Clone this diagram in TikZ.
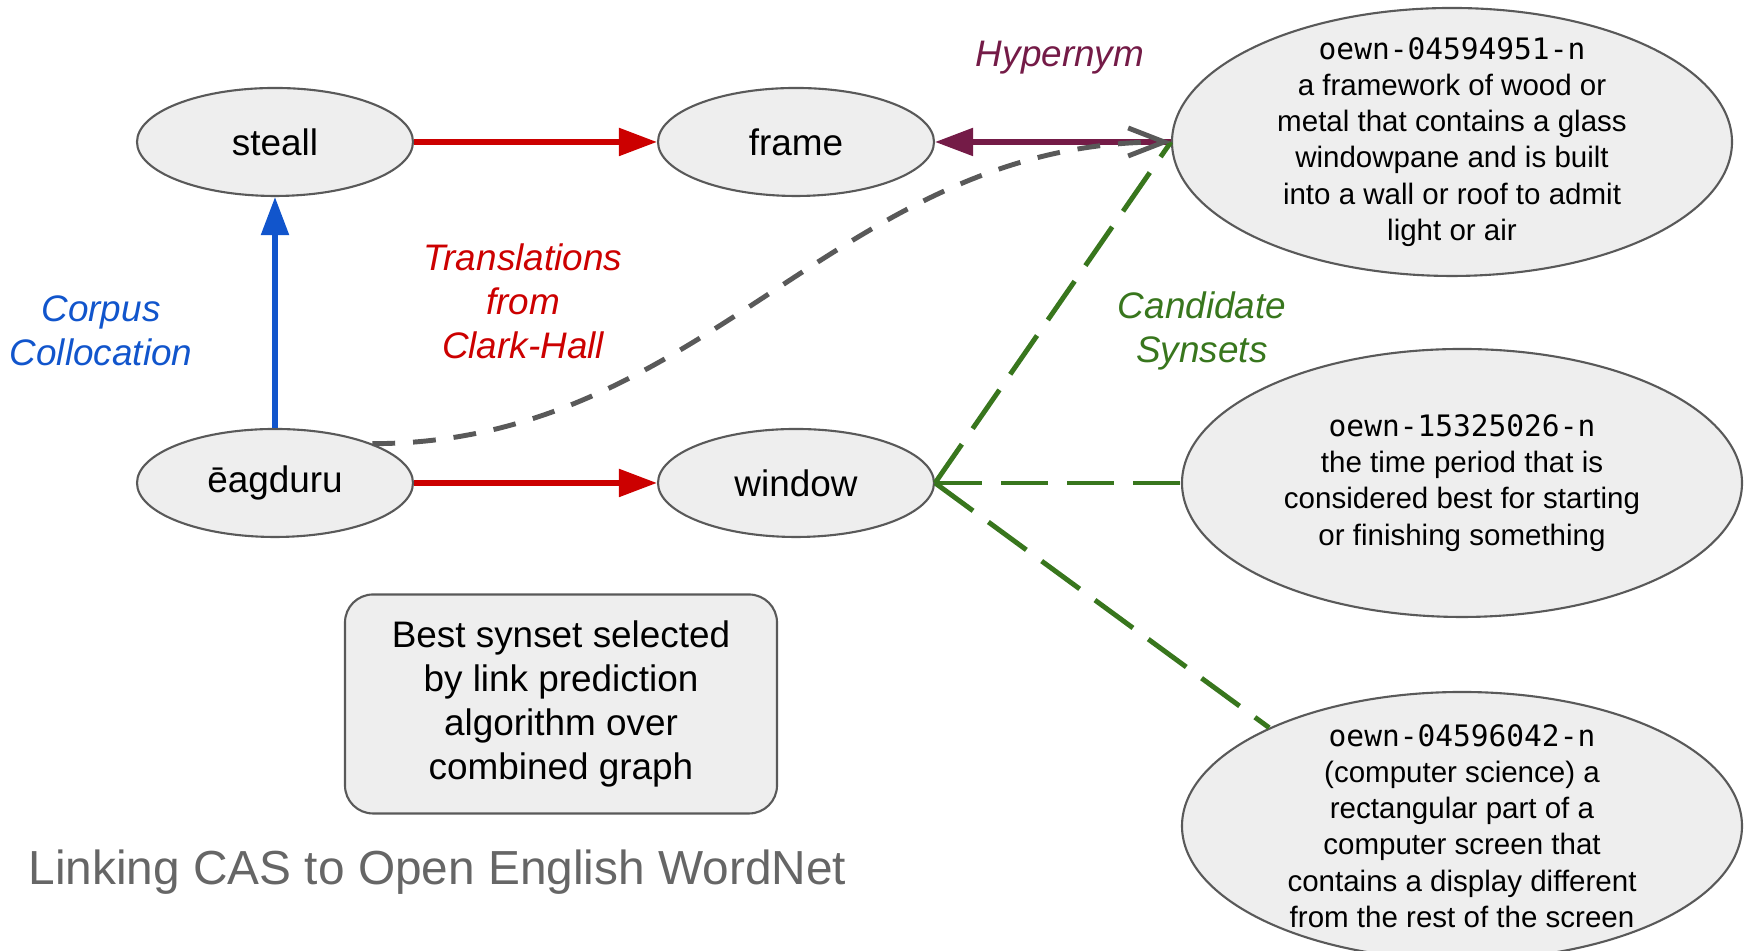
\documentclass[tikz,border=0pt]{standalone}
\usepackage{fontspec}
\setmainfont{Liberation Sans}
\setmonofont{DejaVu Sans Mono}
\usepackage{xcolor}
\usepackage{tikz}
\usetikzlibrary{arrows.meta}
\usetikzlibrary{shapes.geometric}
\definecolor{casred}{HTML}{CC0000}
\definecolor{casblue}{HTML}{1155CC}
\definecolor{hyperpurple}{HTML}{741B47}
\definecolor{candgreen}{HTML}{38761D}
\definecolor{linkgray}{HTML}{595959}
\definecolor{edgegray}{HTML}{595959}
\definecolor{nodegray}{HTML}{EEEEEE}
\definecolor{titlegray}{HTML}{666666}

\begin{document}
\begin{tikzpicture}
\tikzset{>={Triangle[width=2.7mm,length=3.8mm]}}
\tikzstyle{word} =[ellipse, draw=edgegray, fill=nodegray, line width=0.6pt, inner sep=0pt, minimum width=2.76cm, minimum height=1.08cm, font=\fontsize{10.5}{12.5}\selectfont]
\tikzstyle{synset} =[ellipse, draw=edgegray, fill=nodegray, line width=0.6pt, inner sep=0pt, minimum width=5.6cm, minimum height=2.68cm]
\tikzstyle{gloss} =[align=center, inner sep=0pt, font=\fontsize{8.4}{10.3}\selectfont]
\tikzstyle{tag} =[align=center, inner sep=0pt, font=\fontsize{10.5}{12.5}\selectfont\itshape]
\tikzset{cand/.style={line width=1.4pt, candgreen, dash pattern=on 13.4pt off 5.4pt}}

\clip (0,0) rectangle (17.49,9.51);

\node[word](steall) at (2.75,8.09){steall};
\node[word](frame) at (7.96,8.09){frame};
\node[word](eag) at (2.75,4.68){ēagduru};
\node[word](win) at (7.96,4.68){window};

\node[synset,label={[gloss]center:{\texttt{oewn-04594951-n}\\a framework of wood or\\metal that contains a glass\\windowpane and is built\\into a wall or roof to admit\\light or air}}](s1) at (14.52,8.09){};
\node[synset,label={[gloss]center:{\texttt{oewn-15325026-n}\\the time period that is\\considered best for starting\\or finishing something}}](s2) at (14.62,4.68){};
\node[synset,label={[gloss]center:{\texttt{oewn-04596042-n}\\(computer science) a\\rectangular part of a\\computer screen that\\contains a display different\\from the rest of the screen}}](s3) at (14.62,1.25){};

\node[draw=edgegray, fill=nodegray, line width=0.6pt, rounded corners=0.28cm, minimum width=4.32cm, minimum height=2.19cm, align=center, font=\fontsize{10.5}{12.5}\selectfont](best) at (5.61,2.47){Best synset selected\\by link prediction\\algorithm over\\combined graph};
\node[anchor=base west, inner sep=0pt, text=titlegray, font=\fontsize{13.6}{16}\selectfont](title) at (0.28,0.665){Linking CAS to Open English WordNet};

\node[tag, text=hyperpurple](hyp) at (10.60,8.93){Hypernym};
\node[tag, text=casred](trans) at (5.23,6.50){Translations\\from\\Clark-Hall};
\node[tag, text=casblue](corpus) at (1.01,6.20){Corpus\\Collocation};
\node[tag, text=candgreen](candlabel) at (12.02,6.20){Candidate\\Synsets};

\draw [->,line width=1.5pt,casred] (steall) -- (frame);
\draw [->,line width=1.5pt,casred] (eag) -- (win);
\draw [->,line width=1.5pt,casblue] (eag) -- (steall);
\draw [->,line width=1.5pt,hyperpurple] (s1.west) -- (frame.east);

\draw [cand] (win.east) -- (s1.west);
\draw [cand] (win.east) -- (s2.west);
\draw [cand] (win.east) -- (s3.153);

\draw [-{Straight Barb[length=3.6mm,width=2.8mm]},line width=1.4pt,linkgray,dash pattern=on 6.5pt off 5.1pt] (eag.22) to [out=0,in=180] (s1.west);
\end{tikzpicture}
\end{document}
